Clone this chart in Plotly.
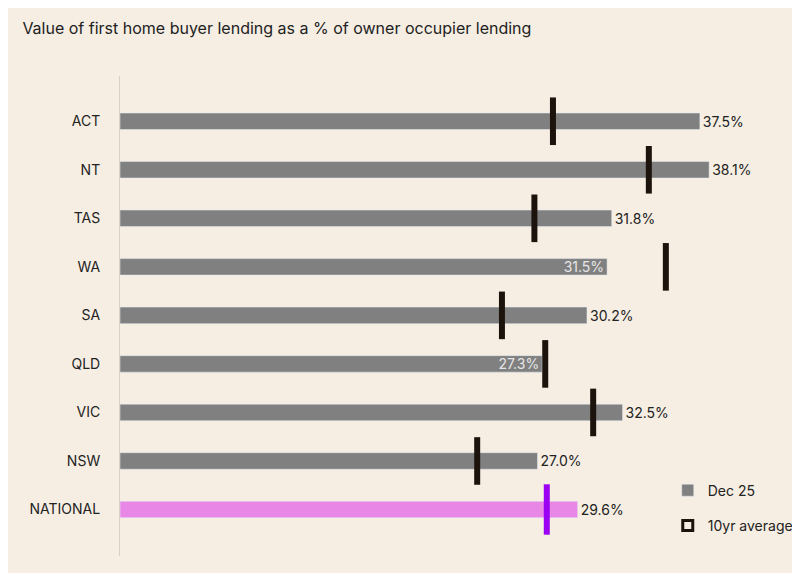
import plotly.graph_objects as go

regions = ["ACT", "NT", "TAS", "WA", "SA", "QLD", "VIC", "NSW", "NATIONAL"]
dec25 = [37.5, 38.1, 31.8, 31.5, 30.2, 27.3, 32.5, 27.0, 29.6]
avg10 = [28.0, 34.2, 26.8, 35.3, 24.7, 27.5, 30.6, 23.1, 27.6]
inside = ["WA", "QLD"]

bg = "#f6eee2"
states = regions[:-1]

fig = go.Figure()
fig.add_trace(go.Bar(
    y=states, x=dec25[:-1], orientation="h", name="Dec 25", legendgroup="a",
    marker_color="#808080", width=0.34,
    text=[f"{v:.1f}%" for v in dec25[:-1]],
    textposition=["inside" if r in inside else "outside" for r in states],
    insidetextanchor="end", constraintext="none",
    insidetextfont=dict(color="#e6e6e6", size=14),
    outsidetextfont=dict(color="#222", size=14),
    cliponaxis=False,
))
fig.add_trace(go.Bar(
    y=["NATIONAL"], x=[dec25[-1]], orientation="h", showlegend=False,
    marker_color="#e887e6", width=0.34, constraintext="none",
    text=[f"{dec25[-1]:.1f}%"], textposition="outside",
    outsidetextfont=dict(color="#222", size=14), cliponaxis=False,
))
fig.add_trace(go.Scatter(
    y=states, x=avg10[:-1], mode="markers", showlegend=False,
    marker=dict(symbol="line-ns", size=34, line=dict(width=6, color="#1c140c")),
))
fig.add_trace(go.Scatter(
    y=["NATIONAL"], x=[avg10[-1]], mode="markers", showlegend=False,
    marker=dict(symbol="line-ns", size=36, line=dict(width=6, color="#9a00f2")),
))
fig.add_trace(go.Scatter(
    x=[None], y=[None], mode="markers", name="10yr average", legendgroup="b",
    marker=dict(symbol="square-open", size=10, color="#1c140c",
                line=dict(width=3, color="#1c140c")),
))

fig.update_layout(
    width=800, height=573, paper_bgcolor=bg, plot_bgcolor=bg,
    margin=dict(l=112, r=20, t=68, b=25, autoexpand=False),
    font=dict(family="Inter, Noto Sans, sans-serif", color="#222", size=14),
    title=dict(text="Value of first home buyer lending as a % of owner occupier lending",
               x=0.018, y=0.975, xanchor="left", yanchor="top",
               font=dict(size=16, color="#222")),
    barmode="overlay",
    xaxis=dict(range=[0, 43.2], visible=False),
    yaxis=dict(categoryorder="array", categoryarray=regions[::-1],
               showline=True, linecolor="#d8d0c6", linewidth=1, automargin=False,
               ticks="", ticklabelstandoff=16, showgrid=False),
    legend=dict(x=0.82, y=0.03, xanchor="left", yanchor="bottom",
                bgcolor="rgba(0,0,0,0)", tracegroupgap=14,
                font=dict(size=14), itemwidth=30),
    showlegend=True,
)

fig.write_html("out.html")
